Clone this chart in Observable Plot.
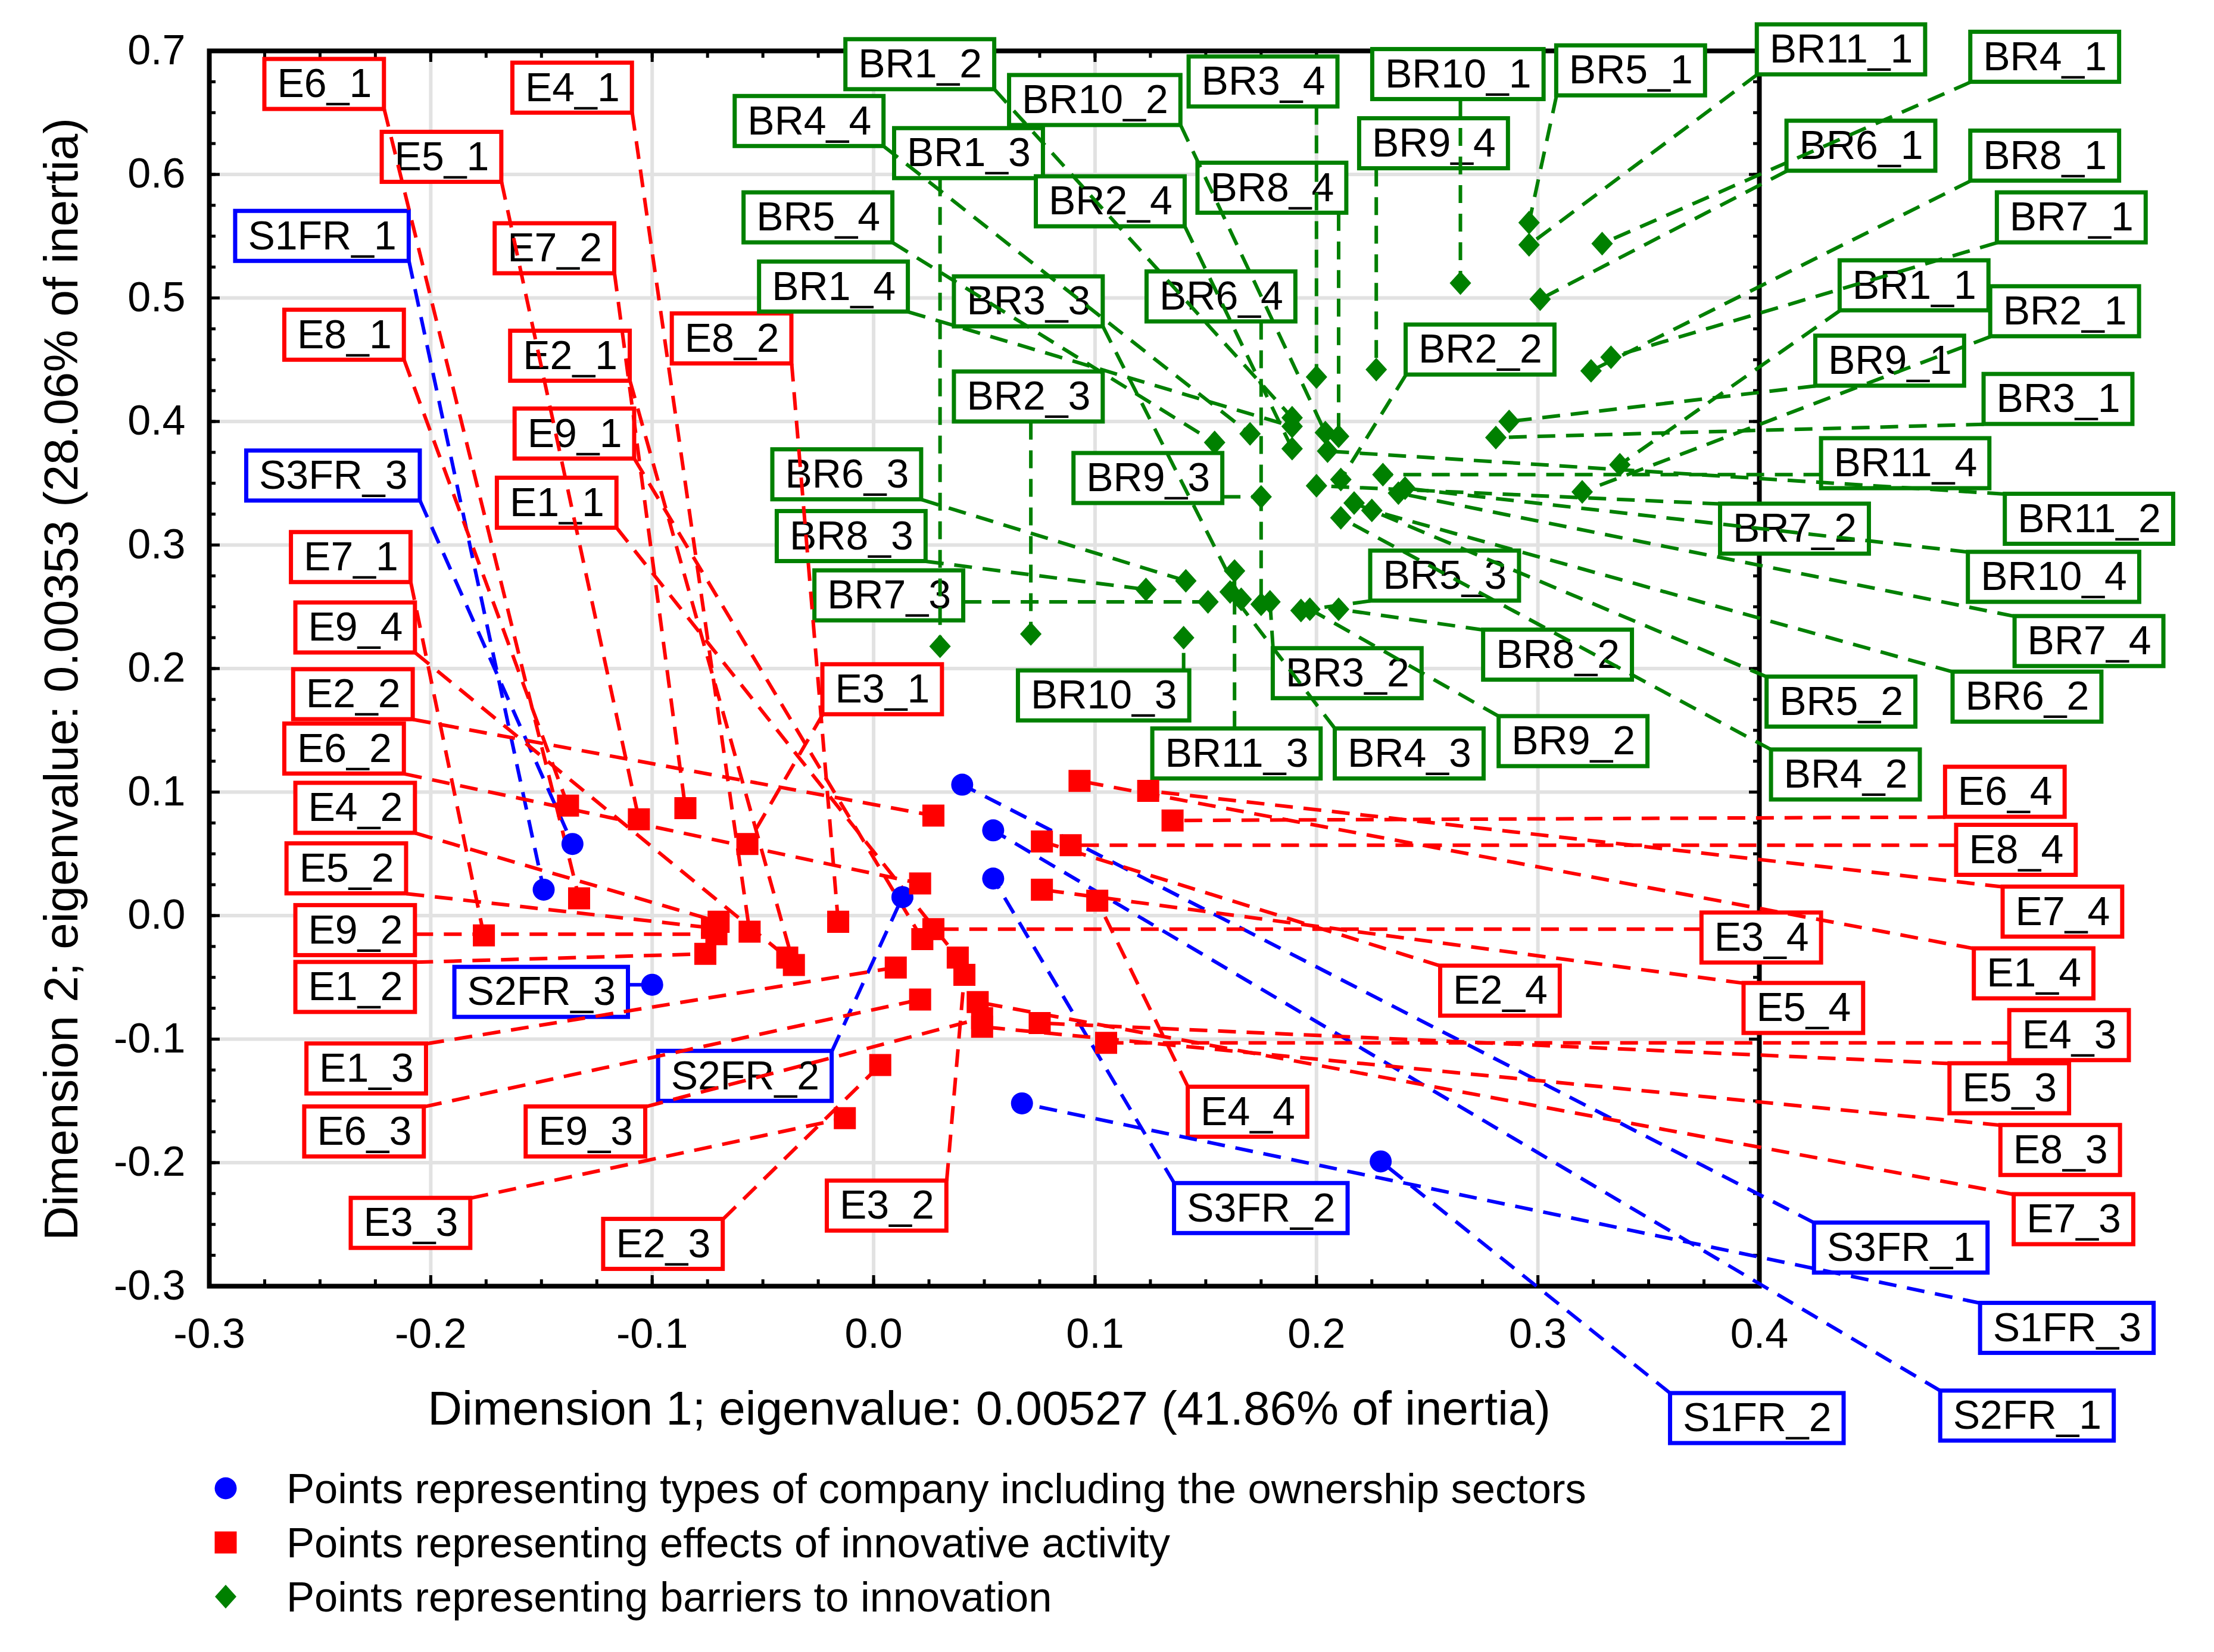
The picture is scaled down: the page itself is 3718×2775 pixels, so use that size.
<!DOCTYPE html>
<html><head><meta charset="utf-8">
<script src="https://cdn.jsdelivr.net/npm/d3@7"></script>
<script src="https://cdn.jsdelivr.net/npm/@observablehq/plot@0.6"></script>
<style>
html,body{margin:0;padding:0;background:#fff;}
body{font-family:"Liberation Sans",Arial,sans-serif;width:3718px;}
#legend{position:relative;height:335px;}
.lrow{position:absolute;left:0;height:91px;line-height:91px;font-size:70.5px;color:#000;white-space:nowrap;}
.lrow svg{position:absolute;left:354px;top:20px;}
.lrow span{position:absolute;left:481px;top:0;}
</style></head><body>
<div id="chart"></div>
<div id="legend"></div>
<script>
// ---------- axis ticks / titles ----------
const xTicks = [-0.3, -0.2, -0.1, 0.0, 0.1, 0.2, 0.3, 0.4];
const yTicks = [-0.3, -0.2, -0.1, 0.0, 0.1, 0.2, 0.3, 0.4, 0.5, 0.6, 0.7];
const xTitle = "Dimension 1; eigenvalue: 0.00527 (41.86% of inertia)";
const yTitle = "Dimension 2; eigenvalue: 0.00353 (28.06% of inertia)";
const legendItems = [
  "Points representing types of company including the ownership sectors",
  "Points representing effects of innovative activity",
  "Points representing barriers to innovation"
];

// ---------- S (types of company) ----------
const sLabel  = ["S1FR_1","S3FR_3","S2FR_3","S2FR_2","S3FR_2","S3FR_1","S2FR_1","S1FR_3","S1FR_2"];
const sX      = [-0.149, -0.136, -0.100, 0.013, 0.054, 0.040, 0.054, 0.067, 0.229];
const sY      = [0.021, 0.058, -0.056, 0.015, 0.030, 0.106, 0.069, -0.152, -0.199];
const sLabelX = [-0.249, -0.244, -0.150, -0.058, 0.175, 0.464, 0.521, 0.539, 0.399];
const sLabelY = [0.550, 0.356, -0.062, -0.130, -0.237, -0.269, -0.405, -0.334, -0.407];

// ---------- E (effects of innovative activity) ----------
const eLabel  = ["E6_1","E4_1","E5_1","E7_2","E8_1","E2_1","E8_2","E9_1","E1_1","E7_1","E9_4","E2_2",
                 "E6_2","E4_2","E5_2","E9_2","E1_2","E1_3","E6_3","E9_3","E3_3","E2_3","E3_2","E3_1",
                 "E2_4","E4_4","E3_4","E5_4","E6_4","E8_4","E7_4","E1_4","E4_3","E5_3","E8_3","E7_3"];
const eX      = [-0.133,-0.056,-0.106,-0.085,-0.138,-0.036,-0.016,0.022,0.038,-0.176,-0.039,0.027,
                 0.021,-0.070,-0.073,-0.071,-0.076,0.010,0.021,0.049,-0.013,0.003,0.041,-0.057,
                 0.076,0.101,0.027,0.076,0.135,0.089,0.124,0.093,0.105,0.075,0.049,0.047];
const eY      = [0.014,-0.013,0.078,0.087,0.089,-0.040,-0.005,-0.019,-0.034,-0.016,-0.034,0.081,
                 0.026,-0.005,-0.010,-0.015,-0.031,-0.042,-0.068,-0.083,-0.164,-0.121,-0.048,0.058,
                 0.060,0.012,-0.011,0.021,0.077,0.057,0.101,0.109,-0.103,-0.087,-0.090,-0.070];
const eLabelX = [-0.248,-0.136,-0.195,-0.144,-0.239,-0.137,-0.064,-0.135,-0.143,-0.236,-0.234,-0.235,
                 -0.239,-0.234,-0.238,-0.234,-0.234,-0.229,-0.230,-0.130,-0.209,-0.095,0.006,0.004,
                 0.283,0.169,0.401,0.420,0.511,0.516,0.537,0.524,0.540,0.513,0.536,0.542];
const eLabelY = [0.673,0.670,0.614,0.540,0.470,0.453,0.467,0.390,0.334,0.290,0.233,0.179,
                 0.135,0.087,0.038,-0.012,-0.058,-0.124,-0.175,-0.175,-0.249,-0.266,-0.235,0.183,
                 -0.061,-0.159,-0.018,-0.075,0.100,0.053,0.003,-0.047,-0.097,-0.140,-0.190,-0.246];

// ---------- BR (barriers to innovation) ----------
const brLabel  = ["BR5_1","BR11_1","BR4_1","BR10_1","BR6_1","BR8_1","BR7_1","BR1_1","BR2_1","BR9_1","BR3_1",
                  "BR9_4","BR3_4","BR2_2","BR1_2","BR10_2","BR1_3","BR4_4","BR2_4","BR8_4","BR5_4","BR1_4",
                  "BR3_3","BR6_4","BR2_3","BR6_3","BR9_3","BR8_3","BR7_3","BR10_3","BR11_3","BR4_3","BR3_2",
                  "BR9_2","BR8_2","BR5_3","BR11_4","BR11_2","BR7_2","BR10_4","BR7_4","BR5_2","BR6_2","BR4_2"];
const brX      = [0.296,0.296,0.329,0.265,0.301,0.324,0.333,0.337,0.320,0.287,0.281,
                  0.227,0.200,0.211,0.189,0.204,0.030,0.170,0.189,0.210,0.154,0.189,
                  0.166,0.175,0.071,0.141,0.175,0.123,0.151,0.140,0.163,0.161,0.179,
                  0.197,0.210,0.193,0.230,0.205,0.200,0.240,0.237,0.217,0.225,0.211];
const brY      = [0.561,0.543,0.544,0.512,0.499,0.441,0.452,0.365,0.343,0.400,0.387,
                  0.442,0.436,0.353,0.403,0.391,0.218,0.390,0.378,0.388,0.383,0.396,
                  0.256,0.252,0.228,0.271,0.339,0.264,0.254,0.225,0.279,0.262,0.254,
                  0.248,0.248,0.247,0.357,0.376,0.348,0.346,0.342,0.334,0.328,0.322];
const brLabelX = [0.342,0.437,0.529,0.264,0.446,0.529,0.541,0.470,0.538,0.459,0.535,
                  0.253,0.176,0.274,0.021,0.100,0.043,-0.029,0.107,0.180,-0.025,-0.018,
                  0.070,0.157,0.070,-0.012,0.124,-0.010,0.007,0.104,0.164,0.242,0.214,
                  0.316,0.309,0.258,0.466,0.549,0.416,0.533,0.549,0.437,0.521,0.439];
const brLabelY = [0.684,0.701,0.695,0.681,0.623,0.615,0.565,0.510,0.489,0.449,0.418,
                  0.625,0.675,0.458,0.689,0.660,0.617,0.643,0.578,0.589,0.565,0.509,
                  0.497,0.501,0.420,0.357,0.354,0.307,0.259,0.178,0.131,0.131,0.196,
                  0.141,0.211,0.275,0.366,0.321,0.313,0.274,0.222,0.173,0.177,0.114];

// ---------- layout ----------
const W = 3718, H = 2440, mL = 351, mR = 764, mT = 85, mB = 280;
const xDomain = [-0.3, 0.4], yDomain = [-0.3, 0.7];
const kx = (W - mL - mR) / (xDomain[1] - xDomain[0]);
const ky = (H - mT - mB) / (yDomain[1] - yDomain[0]);
const FONT = '"Liberation Sans", Arial, sans-serif';
const LABEL_SIZE = 68;
const ctx = document.createElement("canvas").getContext("2d");
ctx.font = `${LABEL_SIZE}px "Liberation Sans", Arial, sans-serif`;

function build(labels, xs, ys, lxs, lys) {
  return labels.map((name, i) => {
    const tw = ctx.measureText(name).width;
    const hw = (tw / 2 + 21) / kx, hh = 42 / ky;
    const x1 = lxs[i] - hw, x2 = lxs[i] + hw, y1 = lys[i] - hh, y2 = lys[i] + hh;
    return {
      name, x: xs[i], y: ys[i], lx: lxs[i], ly: lys[i], x1, x2, y1, y2,
      ax: Math.max(x1, Math.min(x2, xs[i])),
      ay: Math.max(y1, Math.min(y2, ys[i]))
    };
  });
}
const S = build(sLabel, sX, sY, sLabelX, sLabelY);
const E = build(eLabel, eX, eY, eLabelX, eLabelY);
const B = build(brLabel, brX, brY, brLabelX, brLabelY);

const BLUE = "#0000ff", RED = "#ff0000", GREEN = "#008000";
const diamond = {
  draw(context, size) {
    const r = Math.sqrt(size / Math.PI);
    const w = r * 0.95, h = r * 1.05;
    context.moveTo(0, -h); context.lineTo(w, 0); context.lineTo(0, h); context.lineTo(-w, 0); context.closePath();
  }
};
const fmt = d => (Math.abs(d) < 1e-9 ? 0 : d).toFixed(1);
const xMinor = d3.range(-12, 17).map(i => i / 40);
const yMinor = d3.range(-12, 29).map(i => i / 40);

const series = [
  {data: S, color: BLUE, symbol: "circle", r: 18.5},
  {data: E, color: RED, symbol: "square", r: 20.9},
  {data: B, color: GREEN, symbol: diamond, r: 19}
];

const marks = [
  Plot.gridX({ticks: xTicks, stroke: "#e2e2e2", strokeOpacity: 1, strokeWidth: 6}),
  Plot.gridY({ticks: yTicks, stroke: "#e2e2e2", strokeOpacity: 1, strokeWidth: 6}),
  Plot.frame({stroke: "black", strokeWidth: 8}),
];
for (const anchor of ["bottom", "top"]) {
  marks.push(Plot.axisX({anchor, ticks: xMinor, tickSize: -11, strokeWidth: 5, fill: "none", label: null}));
  marks.push(Plot.axisX({anchor, ticks: xTicks, tickSize: -18, strokeWidth: 5, fill: "none", label: null}));
}
for (const anchor of ["left", "right"]) {
  marks.push(Plot.axisY({anchor, ticks: yMinor, tickSize: -11, strokeWidth: 5, fill: "none", label: null}));
  marks.push(Plot.axisY({anchor, ticks: yTicks, tickSize: -18, strokeWidth: 5, fill: "none", label: null}));
}
marks.push(
  Plot.axisX({anchor: "bottom", ticks: xTicks, tickSize: 0, tickPadding: 54, tickFormat: fmt, fontSize: 70, label: null, fill: "black"}),
  Plot.axisY({anchor: "left", ticks: yTicks, tickSize: 0, tickPadding: 40, tickFormat: fmt, fontSize: 70, label: null, fill: "black"}),
  Plot.text([xTitle], {frameAnchor: "bottom", dy: 207, dx: 8, fontSize: 80, fill: "black", textAnchor: "middle", lineAnchor: "middle"}),
  Plot.text([yTitle], {frameAnchor: "left", dx: -247, dy: 18, rotate: -90, fontSize: 80, fill: "black", textAnchor: "middle", lineAnchor: "middle"})
);
// label boxes and texts
for (const s of series) {
  marks.push(Plot.rect(s.data, {x1: "x1", x2: "x2", y1: "y1", y2: "y2", fill: "white", stroke: s.color, strokeWidth: 7}));
  marks.push(Plot.text(s.data, {x: "lx", y: "ly", text: "name", fontSize: LABEL_SIZE, fill: "black", lineAnchor: "middle"}));
}
// leader lines
for (const s of series) {
  marks.push(Plot.link(s.data, {x1: "ax", y1: "ay", x2: "x", y2: "y", stroke: s.color, strokeWidth: 6, strokeDasharray: "30,18"}));
}
// points
for (const s of series) {
  marks.push(Plot.dot(s.data, {x: "x", y: "y", symbol: s.symbol, r: s.r, fill: s.color, stroke: "none"}));
}

const chart = Plot.plot({
  width: W, height: H,
  marginLeft: mL, marginRight: mR, marginTop: mT, marginBottom: mB,
  x: {domain: xDomain},
  y: {domain: yDomain},
  style: {fontFamily: FONT, background: "white", overflow: "visible", color: "black"},
  marks
});
document.getElementById("chart").appendChild(chart);

// legend (below the SVG)
const legendSymbols = [
  `<svg width="50" height="50"><circle cx="25" cy="25" r="18.5" fill="${BLUE}"/></svg>`,
  `<svg width="50" height="50"><rect x="6.5" y="6.5" width="37" height="37" fill="${RED}"/></svg>`,
  `<svg width="50" height="50"><path d="M25,5 L43,25 L25,45 L7,25 Z" fill="${GREEN}"/></svg>`
];
const leg = document.getElementById("legend");
legendItems.forEach((t, i) => {
  const row = document.createElement("div");
  row.className = "lrow";
  row.style.top = (14.5 + i * 91) + "px";
  row.innerHTML = legendSymbols[i] + `<span>${t}</span>`;
  leg.appendChild(row);
});
</script>
</body></html>
